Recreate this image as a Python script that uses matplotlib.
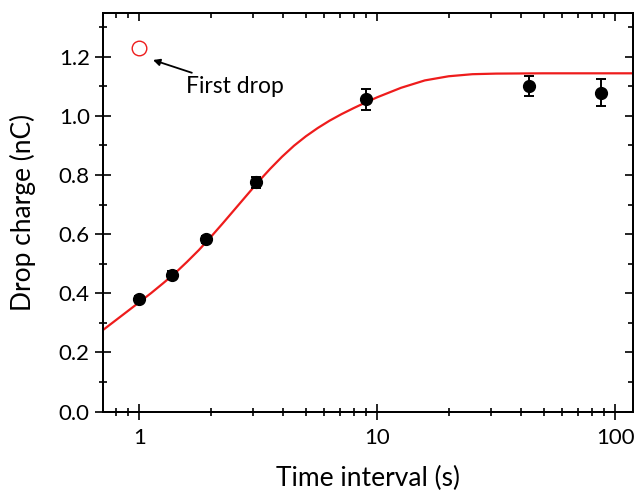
import matplotlib
matplotlib.use('Agg')
import matplotlib.pyplot as plt
from matplotlib.ticker import MultipleLocator, LogLocator, NullFormatter, FixedLocator, FixedFormatter

plt.rcParams['font.family'] = ['Lato', 'DejaVu Sans']

# measured points
t = [1.0, 1.37, 1.91, 3.09, 8.97, 43.5, 86.8]
q = [0.380, 0.462, 0.583, 0.775, 1.056, 1.101, 1.078]
q_err = [0.010, 0.012, 0.012, 0.018, 0.035, 0.035, 0.046]

# first drop
t_first = [1.0]
q_first = [1.228]

# fitted curve
fit_t = [0.704, 0.891, 1.0, 1.122, 1.259, 1.413, 1.585, 1.778, 1.995, 2.239, 2.512,
         2.818, 3.162, 3.548, 3.981, 4.467, 5.012, 5.623, 6.31, 7.079, 7.943, 8.913,
         10.0, 12.59, 15.85, 19.95, 25.12, 31.62, 50.12, 118.8]
fit_q = [0.276, 0.339, 0.370, 0.401, 0.434, 0.468, 0.506, 0.546, 0.590, 0.636, 0.683,
         0.730, 0.777, 0.821, 0.862, 0.899, 0.931, 0.959, 0.984, 1.006, 1.026, 1.045,
         1.063, 1.095, 1.120, 1.134, 1.141, 1.143, 1.144, 1.144]

fig = plt.figure(figsize=(6.36, 4.90), dpi=100)
ax = fig.add_axes([0.162, 0.160, 0.833, 0.8135])

ax.plot(fit_t, fit_q, color='#ee1c1c', lw=1.6, zorder=2)
ax.errorbar(t, q, yerr=q_err, fmt='o', color='black', ms=8.5, elinewidth=1.4,
            capsize=3.8, capthick=1.4, zorder=3)
ax.plot(t_first, q_first, 'o', mfc='none', mec='#ee1c1c', ms=10.5, mew=1.0, zorder=3)

ax.annotate('First drop', xy=(1.142, 1.189), xytext=(1.57, 1.098),
            fontsize=16.5, va='center', ha='left',
            arrowprops=dict(arrowstyle='-|>', color='black', lw=1.3,
                            mutation_scale=10, shrinkA=2, shrinkB=0))

ax.set_xscale('log')
ax.set_xlim(0.704, 118.6)
ax.set_ylim(0, 1.348)

ax.xaxis.set_major_locator(FixedLocator([1, 10, 100]))
ax.xaxis.set_major_formatter(FixedFormatter(['1', '10', '100']))
ax.xaxis.set_minor_locator(LogLocator(base=10, subs=range(2, 10)))
ax.xaxis.set_minor_formatter(NullFormatter())
ax.yaxis.set_major_locator(MultipleLocator(0.2))
ax.yaxis.set_minor_locator(MultipleLocator(0.1))
ax.yaxis.set_major_formatter(plt.FuncFormatter(lambda v, p: '%.1f' % v))

for s in ax.spines.values():
    s.set_linewidth(1.2)

ax.tick_params(which='major', direction='inout', length=11, width=1.2, labelsize=16,
               bottom=True, left=True, top=False, right=False)
ax.tick_params(axis='y', which='major', pad=4)
ax.tick_params(axis='x', which='major', pad=6)
ax.tick_params(which='minor', direction='inout', length=6, width=1.2,
               bottom=True, left=True, top=False, right=False)

# inward ticks on top and right
ax2 = ax.twinx()
ax2.set_ylim(ax.get_ylim())
ax2.yaxis.set_major_locator(MultipleLocator(0.2))
ax2.yaxis.set_minor_locator(MultipleLocator(0.1))
ax2.tick_params(which='major', direction='in', length=5.5, width=1.2, labelright=False)
ax2.tick_params(which='minor', direction='in', length=3.5, width=1.2, labelright=False)
ax3 = ax.twiny()
ax3.set_xscale('log')
ax3.set_xlim(ax.get_xlim())
ax3.xaxis.set_major_locator(FixedLocator([1, 10, 100]))
ax3.xaxis.set_minor_locator(LogLocator(base=10, subs=range(2, 10)))
ax3.xaxis.set_minor_formatter(NullFormatter())
ax3.tick_params(which='major', direction='in', length=5.5, width=1.2, labeltop=False)
ax3.tick_params(which='minor', direction='in', length=3.5, width=1.2, labeltop=False)
for a in (ax2, ax3):
    for s in a.spines.values():
        s.set_linewidth(1.2)

ax.set_xlabel('Time interval (s)', fontsize=19, labelpad=13)
ax.set_ylabel('Drop charge (nC)', fontsize=19, labelpad=16)

fig.savefig('out.png', dpi=100)
